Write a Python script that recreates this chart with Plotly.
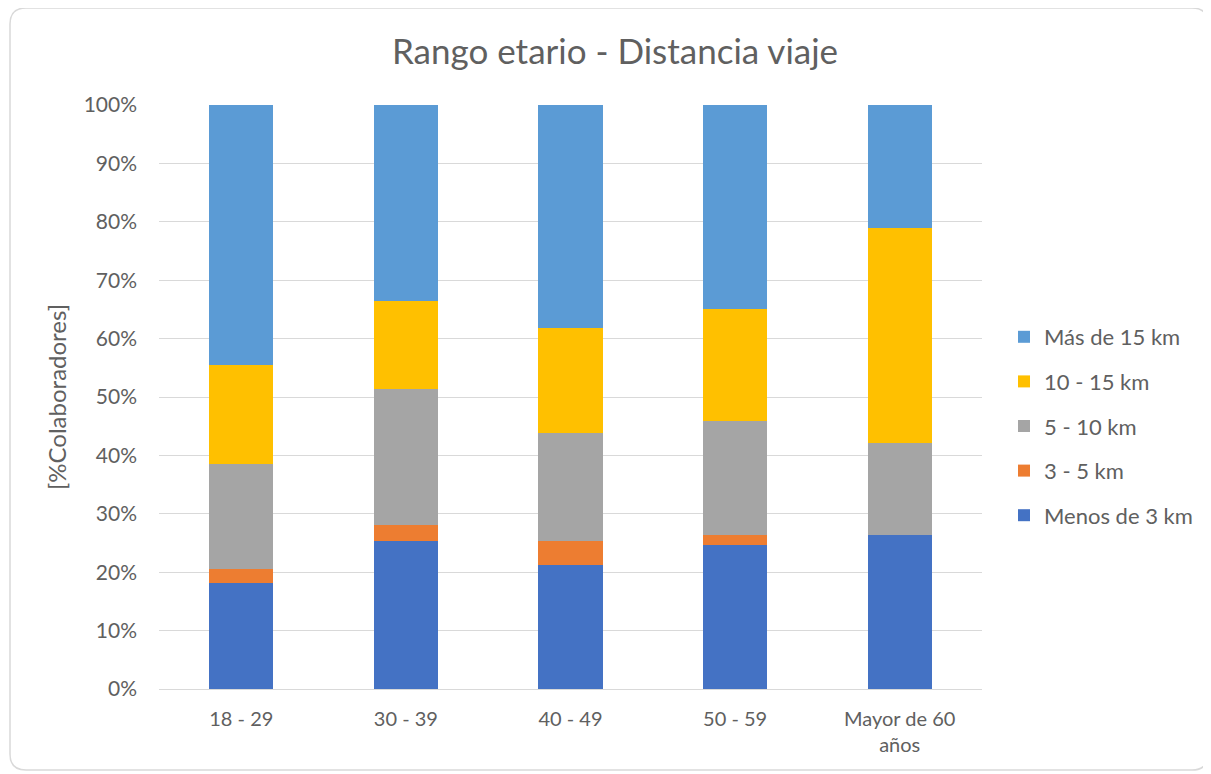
import plotly.graph_objects as go

categories = ["18 - 29", "30 - 39", "40 - 49", "50 - 59", "Mayor de 60<br>años"]
series_names = ["Menos de 3 km", "3 - 5 km", "5 - 10 km", "10 - 15 km", "Más de 15 km"]
menos_3 = [18.1, 25.3, 21.2, 24.6, 26.3]
de_3_5 = [2.4, 2.8, 4.1, 1.7, 0.0]
de_5_10 = [18.1, 23.2, 18.5, 19.6, 15.8]
de_10_15 = [16.8, 15.1, 18.1, 19.1, 36.8]
mas_15 = [44.6, 33.6, 38.1, 35.0, 21.1]
colors = ["#4472C4", "#ED7D31", "#A5A5A5", "#FFC000", "#5B9BD5"]
y_ticks = [0, 10, 20, 30, 40, 50, 60, 70, 80, 90, 100]

values = [menos_3, de_3_5, de_5_10, de_10_15, mas_15]

fig = go.Figure()
n = len(series_names)
for i, (name, vals, col) in enumerate(zip(series_names, values, colors)):
    fig.add_trace(go.Bar(
        x=categories, y=[v / 100 for v in vals], name=name,
        marker=dict(color=col, line=dict(width=0)),
        legendgroup=name, legendrank=n - i,
    ))

OFF = 8  # page body margin
W, H = 1203, 766
L, R, T, B = 159 - OFF, 229, 105 - OFF, 85
pw, ph = W - L - R, H - T - B

def px_x(p):
    return (p - OFF - L) / pw

def px_y(p):
    return (H - B - (p - OFF)) / ph

# rounded border
x0, x1, y0, y1 = px_x(10), px_x(1208), px_y(770), px_y(8)
rx, ry = 16 / pw, 16 / ph
path = (f"M {x0+rx},{y1} L {x1-rx},{y1} Q {x1},{y1} {x1},{y1-ry} "
        f"L {x1},{y0+ry} Q {x1},{y0} {x1-rx},{y0} L {x0+rx},{y0} "
        f"Q {x0},{y0} {x0},{y0+ry} L {x0},{y1-ry} Q {x0},{y1} {x0+rx},{y1} Z")

font_family = "Lato, Open Sans, sans-serif"
text_col = "#606060"
fig.update_layout(
    width=W, height=H,
    barmode="stack", bargap=0.61,
    plot_bgcolor="white", paper_bgcolor="white",
    margin=dict(l=L, r=R, t=T, b=B, autoexpand=False),
    font=dict(family=font_family, color=text_col, size=18),
    title=dict(text="Rango etario - Distancia viaje", x=(615 - OFF) / W,
               xanchor="center", y=1 - (52 - OFF) / H, yanchor="middle",
               font=dict(size=35, color=text_col, family=font_family)),
    legend=dict(x=px_x(1004), y=px_y(426), xanchor="left", yanchor="middle",
                traceorder="grouped", tracegroupgap=13,
                font=dict(size=22, color=text_col), bgcolor="rgba(0,0,0,0)",
                itemwidth=30),
    shapes=[dict(type="path", xref="paper", yref="paper", path=path,
                 line=dict(color="#D9D9D9", width=1.5), fillcolor="rgba(0,0,0,0)",
                 layer="below")],
)
fig.update_yaxes(range=[0, 1], tickvals=[t / 100 for t in y_ticks],
                 ticktext=[f"{t}%" for t in y_ticks],
                 showgrid=True, gridcolor="#D9D9D9", gridwidth=1,
                 zeroline=False, showline=False, ticks="", ticklabelstandoff=21,
                 tickfont=dict(size=21, color=text_col),
                 title=dict(text="[%Colaboradores]", standoff=10,
                            font=dict(size=24, color=text_col)))
fig.update_xaxes(showline=True, linecolor="#D9D9D9", linewidth=1, ticks="",
                 tickfont=dict(size=20, color=text_col), ticklabelstandoff=12)

fig.write_html("out.html")
